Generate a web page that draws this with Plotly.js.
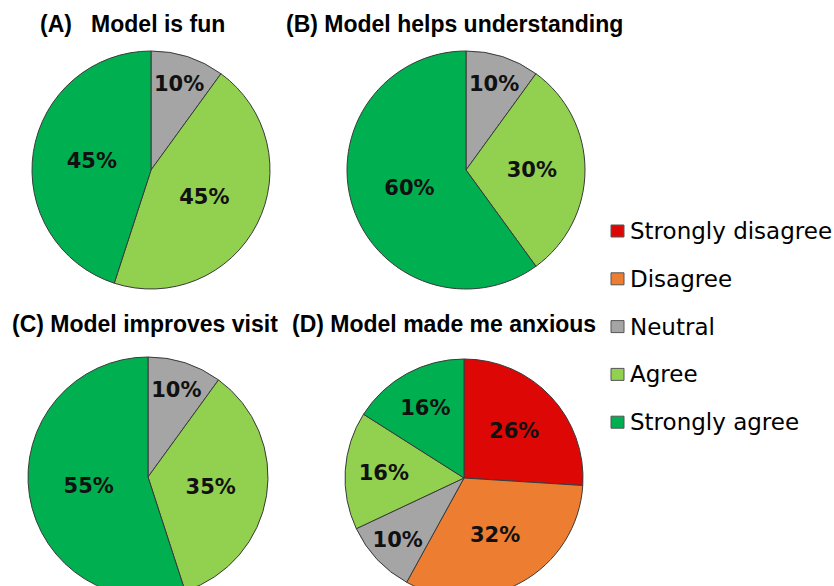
<!DOCTYPE html>
<html>
<head>
<meta charset="utf-8">
<script src="https://cdn.plot.ly/plotly-3.0.1.min.js"></script>
<style>
html,body{margin:0;padding:0;overflow:hidden;background:#fff;}
#chart{width:834px;height:600px;}
</style>
</head>
<body>
<div id="chart"></div>
<script>
// ---- data ----
const categories = ["Strongly disagree", "Disagree", "Neutral", "Agree", "Strongly agree"];
const colors = ["#dd0806", "#ed7d31", "#a5a5a5", "#92d050", "#00b050"];
const panelTitles = ["(A)&nbsp;&nbsp; Model is fun", "(B)&nbsp;Model helps understanding", "(C)&nbsp;Model improves visit", "(D)&nbsp;Model made me anxious"];
const funValues = [0, 0, 10, 45, 45];
const understandingValues = [0, 0, 10, 30, 60];
const visitValues = [0, 0, 10, 35, 55];
const anxiousValues = [26, 32, 10, 16, 16];

const W = 834, H = 600;
const px = x => x / W;
const py = y => 1 - y / H;

// pie placement in pixels: [cx, cy, r]
const geo = [[151, 170, 119], [466, 170, 119], [148, 477, 120], [464, 478, 119]];
const seriesList = [funValues, understandingValues, visitValues, anxiousValues];

const traces = seriesList.map((vals, i) => {
  const [cx, cy, r] = geo[i];
  return {
    type: "pie",
    labels: categories,
    values: vals,
    sort: false,
    direction: "clockwise",
    rotation: 0,
    marker: {colors: colors, line: {color: "#3a3a3a", width: 1}},
    texttemplate: vals.map(v => v > 0 ? "%{percent:.0%}" : ""),
    textposition: "inside",
    insidetextorientation: "horizontal",
    textfont: {family: "DejaVu Sans", size: 21, color: "#111", weight: "bold"},
    hoverinfo: "label+percent",
    showlegend: false,
    domain: {x: [px(cx - r), px(cx + r)], y: [py(cy + r), py(cy - r)]}
  };
});

const titlePos = [[38, 24], [284, 24], [10, 324], [290, 324]];
const annotations = panelTitles.map((t, i) => ({
  text: "<b>" + t + "</b>",
  xref: "paper", yref: "paper",
  x: px(titlePos[i][0]), y: py(titlePos[i][1]),
  xanchor: "left", yanchor: "middle",
  showarrow: false,
  font: {family: "Liberation Sans, Arial", size: 23, color: "#000"}
}));

// legend drawn from categories/colors
const shapes = [];
categories.forEach((c, i) => {
  const yc = 231 + i * 47.8;
  shapes.push({
    type: "rect", xref: "paper", yref: "paper",
    x0: px(611), x1: px(624), y0: py(yc + 6), y1: py(yc - 6),
    fillcolor: colors[i], line: {color: "#555", width: 1}
  });
  annotations.push({
    text: c, xref: "paper", yref: "paper",
    x: px(628), y: py(yc), xanchor: "left", yanchor: "middle",
    showarrow: false,
    font: {family: "DejaVu Sans", size: 23, color: "#000"}
  });
});

const layout = {
  width: W, height: H,
  margin: {l: 0, r: 0, t: 0, b: 0},
  paper_bgcolor: "#fff",
  showlegend: false,
  uniformtext: {minsize: 20, mode: "show"},
  annotations: annotations,
  shapes: shapes
};

Plotly.newPlot("chart", traces, layout, {displayModeBar: false, staticPlot: true});
</script>
</body>
</html>
